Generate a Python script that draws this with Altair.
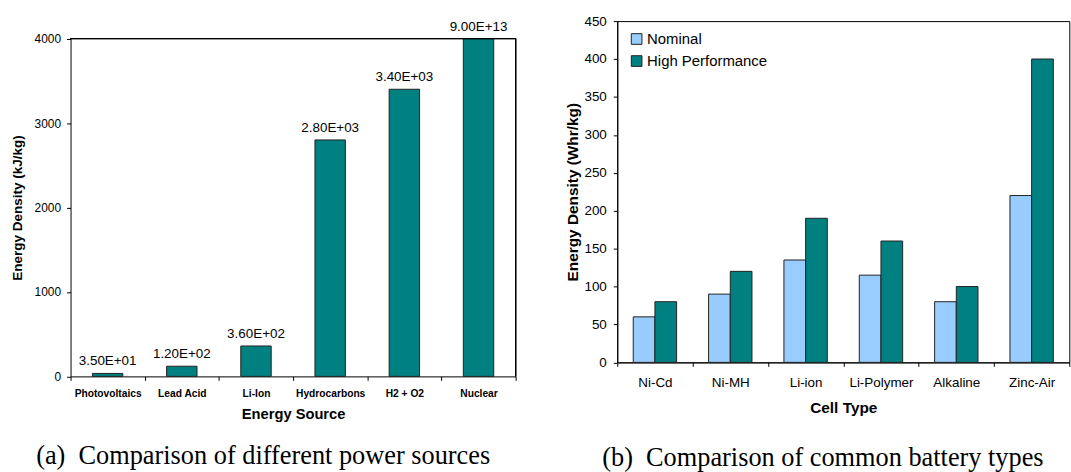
import altair as alt
import pandas as pd

# Panel (a): energy density of power sources (kJ/kg)
sources = ["Photovoltaics", "Lead Acid", "Li-Ion", "Hydrocarbons", "H2 + O2", "Nuclear"]
source_density = [35, 120, 360, 2800, 3400, 9.0e13]

# Panel (b): energy density of battery chemistries (Whr/kg)
cells = ["Ni-Cd", "Ni-MH", "Li-ion", "Li-Polymer", "Alkaline", "Zinc-Air"]
series = ["Nominal", "High Performance"]
nominal = [60, 90, 135, 115, 80, 220]
high_perf = [80, 120, 190, 160, 100, 400]

TEAL = "#008080"
LIGHT = "#99CCFF"
EDGE = "#222222"
SANS = "Liberation Sans"
SERIF = "Liberation Serif"

# panel (a) sits lower than panel (b): its plot frame starts TOP_A px down
W_A, H_A, TOP_A = 448, 357.6, 17.6
W_B, H_B = 455, 343.5

left_df = pd.DataFrame({
    "source": sources,
    "density": source_density,
    "label": [f"{v:.2E}" for v in source_density],
})

right_df = pd.DataFrame({
    "cell": cells * 2,
    "series": [series[0]] * len(cells) + [series[1]] * len(cells),
    "value": nominal + high_perf,
})

# ---- panel (a) ----
x_a = alt.X(
    "source:N", sort=sources,
    scale=alt.Scale(paddingInner=0, paddingOuter=0),
    axis=alt.Axis(
        title="Energy Source", labelAngle=0, labelFont=SANS, labelFontSize=10.3,
        labelFontWeight="bold", labelColor="black", labelPadding=8, tickBand="extent",
        tickSize=4, tickColor="black", domainColor="black", titleFont=SANS,
        titleFontSize=14.8, titleFontWeight="bold", titleColor="black", titlePadding=8,
    ),
)
y_a = alt.Y(
    "density:Q",
    scale=alt.Scale(domain=[0, 4000], range=[H_A, TOP_A], clamp=True, nice=False),
    axis=alt.Axis(
        title="Energy Density  (kJ/kg)", values=[0, 1000, 2000, 3000, 4000], format="d",
        grid=False, labelFont=SANS, labelFontSize=12, labelColor="black", labelPadding=6,
        tickSize=4, tickColor="black", domainColor="black", titleFont=SANS,
        titleFontSize=13.6, titleFontWeight="bold", titleColor="black", titlePadding=10,
    ),
)

bars_a = alt.Chart(left_df).mark_bar(
    width=alt.RelativeBandSize(0.41), color=TEAL, stroke=EDGE, strokeWidth=1
).encode(x=x_a, y=y_a)

labels_a = alt.Chart(left_df).mark_text(
    baseline="bottom", dy=-5, font=SANS, fontSize=13.5, color="black"
).encode(x=x_a, y=y_a, text="label:N")

# top and right edges of the plot frame for panel (a)
frame_top = alt.Chart(left_df).mark_rule(color="black", strokeWidth=1).encode(
    x=alt.value(0), x2=alt.value(W_A), y=alt.value(TOP_A)
)
frame_right = alt.Chart(left_df).mark_rule(color="black", strokeWidth=1).encode(
    x=alt.value(W_A), y=alt.value(TOP_A), y2=alt.value(H_A)
)

panel_a = alt.layer(bars_a, labels_a, frame_top, frame_right).properties(
    width=W_A, height=H_A,
    view=alt.ViewBackground(strokeOpacity=0),
    title=alt.TitleParams(
        "(a)\u2002Comparison of different power sources", orient="bottom",
        anchor="middle", frame="bounds", font=SERIF, fontSize=26.5,
        fontWeight="normal", color="black", offset=22,
    ),
)

# ---- panel (b) ----
x_b = alt.X(
    "cell:N", sort=cells,
    scale=alt.Scale(paddingInner=0, paddingOuter=0),
    axis=alt.Axis(
        title="Cell Type", labelAngle=0, labelFont=SANS, labelFontSize=13.5,
        labelColor="black", labelPadding=9, tickBand="extent", tickSize=4,
        tickColor="black", domainColor="black", titleFont=SANS, titleFontSize=15.5,
        titleFontWeight="bold", titleColor="black", titlePadding=12,
    ),
)
y_b = alt.Y(
    "value:Q",
    scale=alt.Scale(domain=[0, 450], nice=False),
    axis=alt.Axis(
        title="Energy Density (Whr/kg)", values=list(range(0, 451, 50)), grid=False,
        labelFont=SANS, labelFontSize=13.5, labelColor="black", labelPadding=7,
        tickSize=4, tickColor="black", domainColor="black", titleFont=SANS,
        titleFontSize=15.5, titleFontWeight="bold", titleColor="black", titlePadding=3,
    ),
)

bars_b = alt.Chart(right_df).mark_bar(stroke=EDGE, strokeWidth=1).encode(
    x=x_b,
    xOffset=alt.XOffset(
        "series:N", sort=series,
        scale=alt.Scale(paddingInner=0, paddingOuter=0.737),
    ),
    y=y_b,
    color=alt.Color(
        "series:N", sort=series,
        scale=alt.Scale(domain=series, range=[LIGHT, TEAL]),
        legend=alt.Legend(
            title=None, orient="none", legendX=12, legendY=10.5, padding=0,
            symbolType="square", symbolSize=115, symbolStrokeColor=EDGE,
            symbolStrokeWidth=1, labelFont=SANS, labelFontSize=15,
            labelColor="black", labelOffset=3, rowPadding=6.2,
        ),
    ),
)

panel_b = bars_b.properties(
    width=W_B, height=H_B,
    title=alt.TitleParams(
        "(b)\u2002Comparison of common battery types", orient="bottom",
        anchor="middle", frame="bounds", font=SERIF, fontSize=26.5,
        fontWeight="normal", color="black", offset=29, dx=5,
    ),
)

chart = (
    alt.hconcat(panel_a, panel_b, spacing=48.3)
    .resolve_legend(color="independent")
    .properties(padding={"left": 10, "top": 11.7, "right": 0, "bottom": 0})
    .configure(font=SANS)
    .configure_view(stroke="black", strokeWidth=1)
)

chart.save("out.html", embed_options={"renderer": "svg", "actions": False})
